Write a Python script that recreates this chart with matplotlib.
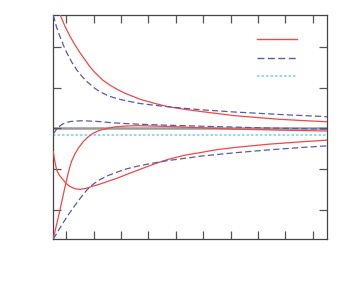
# -*- coding: utf-8 -*-
"""
Three pairs of response curves (solid / dashed) with a constant reference level.
"""

import matplotlib
matplotlib.use('Agg')
import matplotlib.pyplot as plt
from matplotlib.lines import Line2D

#%% Data

# upper pair
x_red_a = [0.20, 0.245, 0.43, 0.61, 0.79, 0.97, 1.16, 1.34, 1.52, 1.81, 2.07, 2.32, 2.62,
           3.18, 3.71, 4.20, 4.81, 5.42, 6.63, 8.28, 10.0]
y_red_a = [2.87, 2.79, 2.50, 2.26, 2.05, 1.86, 1.68, 1.51, 1.37, 1.18, 1.06, 0.96, 0.86,
           0.71, 0.61, 0.53, 0.465, 0.41, 0.31, 0.22, 0.16]
x_blue_a = [0.0, 0.12, 0.245, 0.37, 0.49, 0.67, 0.85, 1.0, 1.22, 1.52, 1.70, 2.0, 2.31,
            2.7, 3.16, 3.7, 4.20, 4.81, 5.42, 6.63, 8.27, 10.0]
y_blue_a = [2.78, 2.48, 2.25, 2.04, 1.86, 1.63, 1.44, 1.31, 1.15, 0.98, 0.90, 0.80, 0.73,
            0.67, 0.61, 0.565, 0.53, 0.49, 0.455, 0.40, 0.34, 0.285]

# middle pair (near zero)
x_red_b = [0.0, 0.245, 0.43, 0.55, 0.66, 0.78, 0.92, 1.09, 1.27, 1.46, 1.65, 1.82, 2.05,
           2.31, 2.7, 3.16, 4.0, 4.81, 6.63, 8.3, 10.0]
y_red_b = [-2.71, -2.0, -1.43, -1.08, -0.82, -0.64, -0.48, -0.33, -0.21, -0.12, -0.06,
           -0.025, 0.01, 0.04, 0.058, 0.065, 0.05, 0.03, -0.02, -0.045, -0.065]
x_blue_b = [0.0, 0.12, 0.245, 0.35, 0.49, 0.65, 0.85, 1.0, 1.22, 1.45, 1.70, 2.0, 2.31,
            2.7, 3.16, 4.0, 4.81, 5.5, 6.63, 8.0, 10.0]
y_blue_b = [-0.14, -0.02, 0.06, 0.11, 0.145, 0.17, 0.18, 0.185, 0.182, 0.175, 0.165, 0.145,
            0.13, 0.115, 0.10, 0.08, 0.065, 0.05, 0.03, 0.005, -0.02]

# lower pair
x_red_c = [0.0, 0.05, 0.12, 0.22, 0.365, 0.48, 0.61, 0.78, 0.97, 1.22, 1.45, 1.70, 2.0,
           2.31, 2.65, 3.0, 3.35, 3.71, 4.2, 4.8, 5.42, 6.0, 6.63, 7.85, 9.07, 10.0]
y_red_c = [-0.575, -0.79, -1.02, -1.15, -1.27, -1.36, -1.43, -1.48, -1.50, -1.47, -1.42,
           -1.37, -1.30, -1.23, -1.14, -1.05, -0.96, -0.87, -0.76, -0.66, -0.59, -0.52,
           -0.47, -0.39, -0.33, -0.29]
x_blue_c = [0.0, 0.25, 0.5, 0.75, 0.97, 1.1, 1.22, 1.35, 1.5, 1.7, 2.0, 2.31, 2.65, 3.0,
            3.5, 4.2, 5.42, 6.63, 7.85, 9.07, 10.0]
y_blue_c = [-2.72, -2.44, -2.17, -1.93, -1.73, -1.62, -1.52, -1.43, -1.35, -1.26, -1.16,
            -1.08, -1.00, -0.94, -0.87, -0.79, -0.68, -0.60, -0.53, -0.47, -0.43]

# constant reference level
ref_level = -0.17

x_ticks = [0.47 + i for i in range(10)]
y_ticks = [-2, -1, 0, 1, 2]

#%% Plot

red = '#f04848'
blue = '#5a5aaa'
cyan = '#7fd4ee'
dash = (0, (5, 2.5))
dots = (0, (1.5, 1.2))

fig = plt.figure(figsize=(3.49, 2.85), dpi=100)
ax = fig.add_axes([0.1527, 0.1625, 0.7851, 0.7859])

ax.axhline(0, color='#9a9a9a', linewidth=1.8, zorder=1)
ax.axhline(ref_level, color=cyan, linewidth=1.2, linestyle=dots, zorder=2)

ax.plot(x_red_a, y_red_a, color=red, linewidth=0.9, zorder=3)
ax.plot(x_blue_a, y_blue_a, color=blue, linewidth=0.9, linestyle=dash, zorder=3)
ax.plot(x_red_b, y_red_b, color=red, linewidth=0.9, zorder=3)
ax.plot(x_blue_b, y_blue_b, color=blue, linewidth=0.9, linestyle=dash, zorder=3)
ax.plot(x_red_c, y_red_c, color=red, linewidth=0.9, zorder=3)
ax.plot(x_blue_c, y_blue_c, color=blue, linewidth=0.9, linestyle=dash, zorder=3)

ax.set_xlim(0, 10)
ax.set_ylim(-2.71, 2.79)
ax.set_xticks(x_ticks)
ax.set_yticks(y_ticks)
ax.set_xticklabels([])
ax.set_yticklabels([])
ax.tick_params(direction='in', length=6, width=0.9, color='#555555',
               top=True, right=True)
for sp in ax.spines.values():
    sp.set_color('#444444')
    sp.set_linewidth(0.9)

handles = [Line2D([], [], color=red, linewidth=1.0),
           Line2D([], [], color=blue, linewidth=1.0, linestyle=dash),
           Line2D([], [], color=cyan, linewidth=1.2, linestyle=dots)]
ax.legend(handles, ['', '', ''], loc='upper right', bbox_to_anchor=(0.916, 0.948),
          frameon=False, handlelength=2.9, handletextpad=0.0, labelspacing=0.31,
          borderpad=0.0, fontsize=10)

fig.savefig('out.png', dpi=100)
